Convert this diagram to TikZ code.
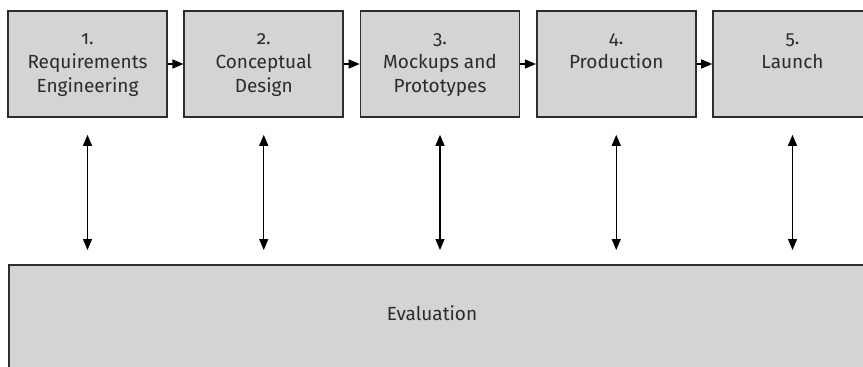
\documentclass[tikz,border=0pt]{standalone}
\usepackage{fontspec}
\setmainfont{Fira Sans}[Numbers=OldStyle]
\usetikzlibrary{arrows.meta}
\definecolor{boxfill}{HTML}{D3D4D6}
\definecolor{boxline}{HTML}{2E2E2E}
\definecolor{ink}{HTML}{2B2B2B}
\tikzset{
  stagebox/.style={draw=boxline, fill=boxfill, line width=1.6pt,
    minimum width=159pt, minimum height=106pt, inner sep=0pt},
  stagetext/.style={anchor=north, align=center, text=ink, inner sep=0pt,
    font=\fontsize{19pt}{24pt}\selectfont},
  flow/.style={line width=1.1pt, -{Triangle[length=11pt,width=9pt]}},
  feedback/.style={line width=1.1pt, {Triangle[length=11pt,width=9pt]}-{Triangle[length=11pt,width=9pt]}}
}
\begin{document}
\begin{tikzpicture}[x=1pt,y=-1pt]
\useasboundingbox (0,0) rectangle (863,367);
\clip (0,0) rectangle (863,367);

% five stages of the process
\foreach \i/\x in {1/87.5, 2/263.75, 3/440, 4/616.25, 5/792.5}
  \node[stagebox] (s\i) at (\x,64) {};

\node[stagetext] (t1) at ([yshift=-23pt]s1.north) {1.\\Requirements\\Engineering};
\node[stagetext] (t2) at ([yshift=-23pt]s2.north) {2.\\Conceptual\\Design};
\node[stagetext] (t3) at ([yshift=-23pt]s3.north) {3.\\Mockups and\\Prototypes};
\node[stagetext] (t4) at ([yshift=-23pt]s4.north) {4.\\Production};
\node[stagetext] (t5) at ([yshift=-23pt]s5.north) {5.\\Launch};

% evaluation band underneath
\node[stagebox, anchor=north west, minimum width=870pt, minimum height=110pt] (ev) at (8,264) {};
\node[text=ink, font=\fontsize{19pt}{24pt}\selectfont, inner sep=0pt] (evt) at (432,313) {Evaluation};

% sequence between stages
\foreach \a/\b in {1/2, 2/3, 3/4, 4/5}
  \draw[flow] (s\a.east) -- (s\b.west);

% two-way links between each stage and the evaluation
\foreach \i/\x in {1/87.5, 2/263.75, 3/440, 4/616.25, 5/792.5}
  \draw[feedback] ([yshift=-17pt]s\i.south) -- (\x,250);
\end{tikzpicture}
\end{document}
